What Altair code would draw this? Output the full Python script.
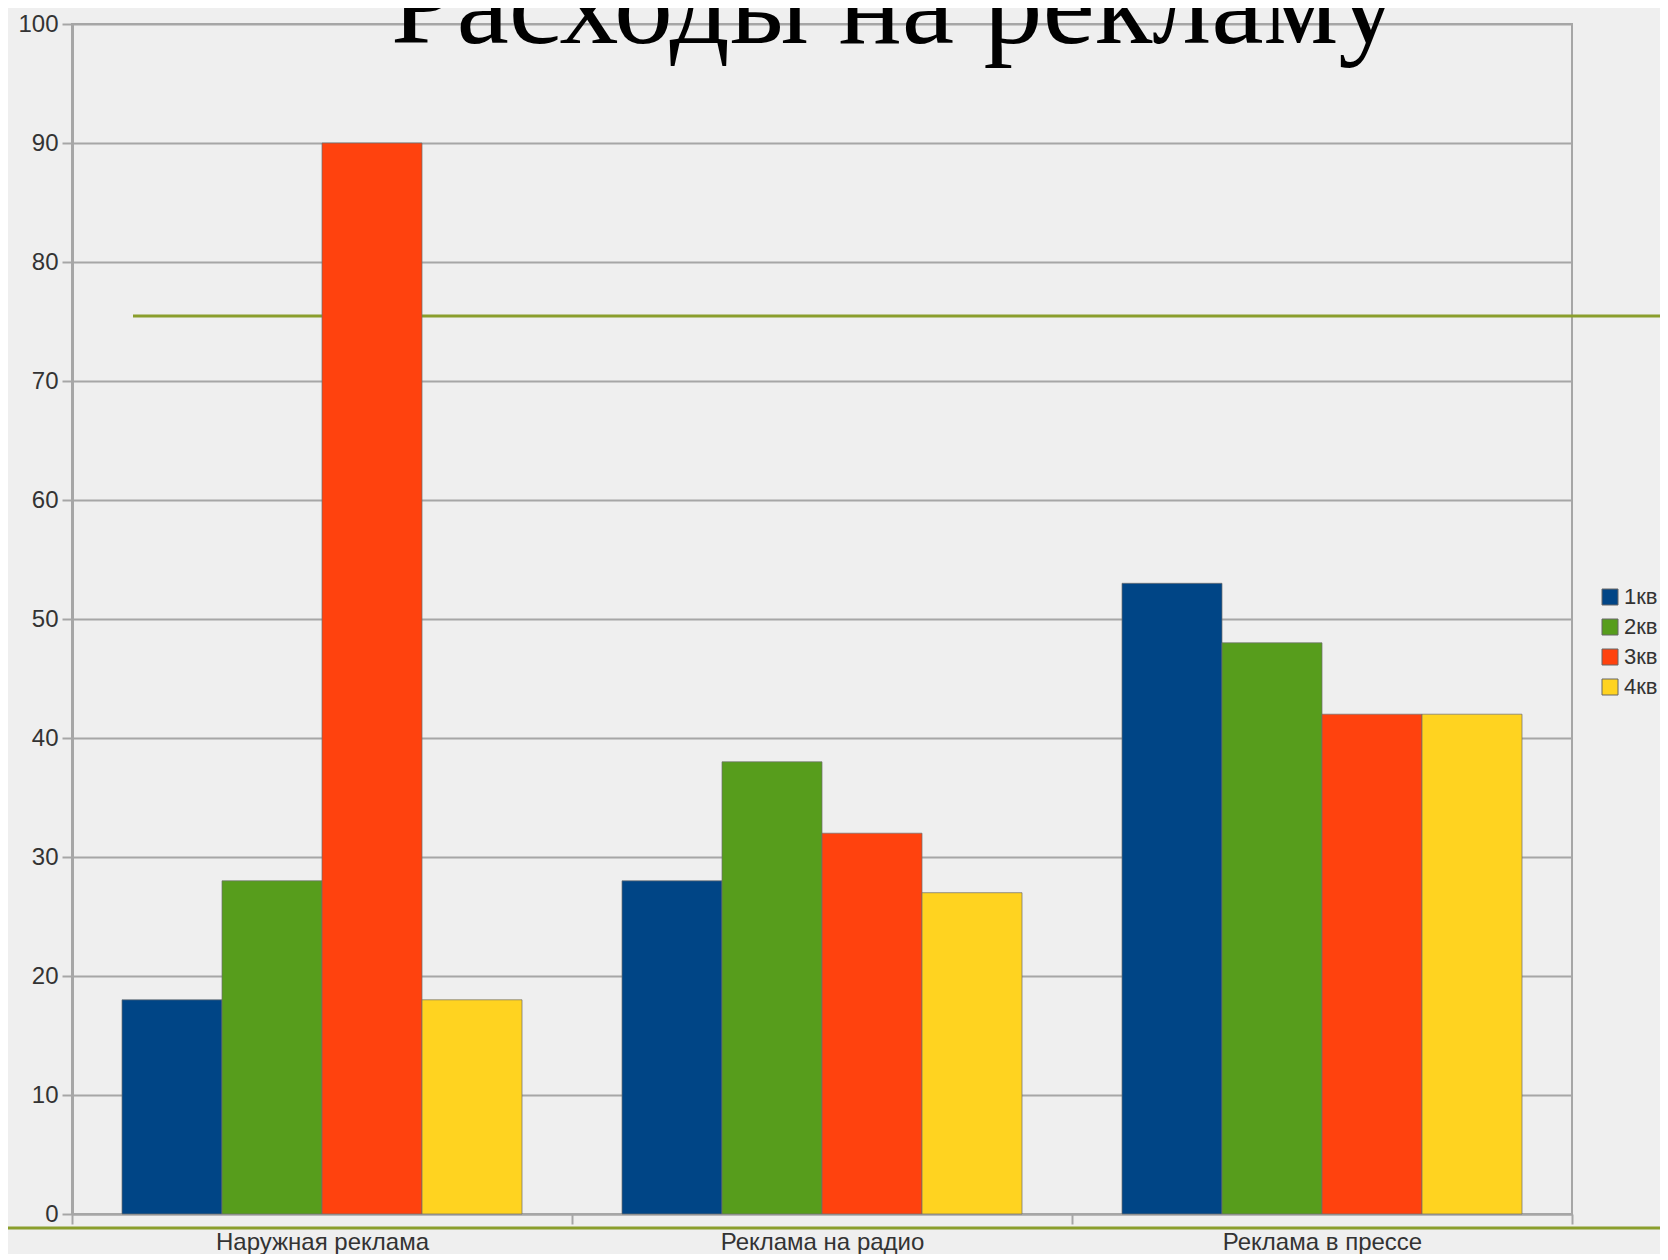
import altair as alt
import pandas as pd

categories = ["Наружная реклама", "Реклама на радио", "Реклама в прессе"]
series = ["1кв", "2кв", "3кв", "4кв"]
values_1kv = [18, 28, 53]
values_2kv = [28, 38, 48]
values_3kv = [90, 32, 42]
values_4kv = [18, 27, 42]
colors = ["#004586", "#579D1C", "#FF420E", "#FFD320"]
title_text = "Расходы на рекламу"
y_ticks = list(range(0, 101, 10))

rows = []
for s, vals in zip(series, [values_1kv, values_2kv, values_3kv, values_4kv]):
    for c, v in zip(categories, vals):
        rows.append({"cat": c, "q": s, "v": v})
df = pd.DataFrame(rows)

W, H = 1500, 1190
GRID = "#A6A6A6"
LINE_GREEN = "#8A9E2C"

bars = alt.Chart(df).mark_bar(stroke="#6E6E6E", strokeWidth=1, strokeOpacity=0.7).encode(
    x=alt.X("cat:N", sort=categories,
            scale=alt.Scale(paddingInner=0, paddingOuter=0),
            axis=alt.Axis(title=None, labelAngle=0, tickBand="extent", tickSize=10,
                          tickColor=GRID, tickWidth=2, domainColor=GRID, domainWidth=2,
                          labelFont="Liberation Sans", labelFontSize=24, labelColor="#333333",
                          labelPadding=6, labelLimit=0, grid=False)),
    xOffset=alt.XOffset("q:N", sort=series, scale=alt.Scale(paddingInner=0, paddingOuter=0.5)),
    y=alt.Y("v:Q", scale=alt.Scale(domain=[0, 100], nice=False),
            axis=alt.Axis(title=None, values=y_ticks, tickSize=10, tickColor=GRID, tickWidth=2,
                          domainColor=GRID, domainWidth=3, gridColor=GRID, gridWidth=2,
                          labelFont="Liberation Sans", labelFontSize=24, labelColor="#333333",
                          labelPadding=4)),
    color=alt.Color("q:N", sort=series, scale=alt.Scale(domain=series, range=colors),
                    legend=alt.Legend(title=None, orient="none", legendX=1527, legendY=562,
                                      symbolType="square", symbolSize=256,
                                      symbolStrokeColor="#666666", symbolStrokeWidth=1,
                                      labelFont="Liberation Sans", labelFontSize=22,
                                      labelColor="#333333", labelOffset=3, rowPadding=8)),
)

deco = pd.DataFrame({"k": [0]})
top_line = alt.Chart(deco).mark_rule(color=LINE_GREEN, strokeWidth=3).encode(
    x=alt.value(61), x2=alt.value(1588), y=alt.value(292))
bottom_line = alt.Chart(deco).mark_rule(color=LINE_GREEN, strokeWidth=3).encode(
    x=alt.value(-64), x2=alt.value(1588), y=alt.value(1204))

title = alt.Chart(pd.DataFrame({"t": [title_text]})).mark_text(
    font="Liberation Serif", fontSize=118, color="#000000", align="center",
    baseline="alphabetic").encode(text="t:N", x=alt.value(822), y=alt.value(19))

chart = alt.layer(top_line, bars, bottom_line, title).properties(
    width=W, height=H,
    autosize=alt.AutoSizeParams(type="none"),
    padding={"left": 64, "top": 16, "right": 88, "bottom": 40},
    background="#EFEFEF",
).configure_view(stroke=GRID, strokeWidth=2)

chart.save("out.html", embed_options={"renderer": "svg", "actions": False})
